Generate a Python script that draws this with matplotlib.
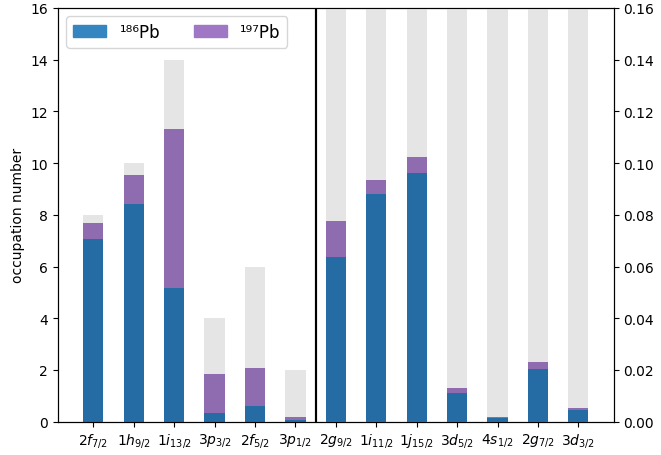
import matplotlib
matplotlib.use("Agg")
import matplotlib.pyplot as plt
from matplotlib.patches import Patch
import numpy as np

# Left group (occupation numbers, left axis)
left_labels = [r"$2f_{7/2}$", r"$1h_{9/2}$", r"$1i_{13/2}$", r"$3p_{3/2}$", r"$2f_{5/2}$", r"$3p_{1/2}$"]
left_capacity = [8, 10, 14, 4, 6, 2]
left_pb186 = [7.07, 8.41, 5.16, 0.35, 0.62, 0.08]
left_pb197 = [7.67, 9.53, 11.32, 1.86, 2.09, 0.19]

# Right group (occupation numbers, right axis)
right_labels = [r"$2g_{9/2}$", r"$1i_{11/2}$", r"$1j_{15/2}$", r"$3d_{5/2}$", r"$4s_{1/2}$", r"$2g_{7/2}$", r"$3d_{3/2}$"]
right_capacity = [10, 12, 16, 6, 2, 8, 4]
right_pb186 = [0.0636, 0.0880, 0.0961, 0.0112, 0.0016, 0.0205, 0.0047]
right_pb197 = [0.0775, 0.0934, 0.1023, 0.0132, 0.0019, 0.0229, 0.0054]

series_names = ["\u00b9\u2078\u2076Pb", "\u00b9\u2079\u2077Pb"]

c_gray = "#e5e5e5"
c_blue = "#256ba4"
c_purple = "#8f6cb0"
c_blue_leg = "#3586c0"
c_purple_leg = "#a077c4"
w = 0.5

fig = plt.figure(figsize=(6.61, 4.56), dpi=100)
ax = fig.add_subplot(111)
fig.subplots_adjust(left=0.0877, right=0.9285, top=0.9803, bottom=0.073)
ax2 = ax.twinx()

nl = len(left_labels)
nr = len(right_labels)
xl = np.arange(nl)
xr = np.arange(nl, nl + nr)

ax.bar(xl, left_capacity, width=w, color=c_gray, zorder=1)
ax.bar(xl, left_pb197, width=w, color=c_purple, zorder=2)
ax.bar(xl, left_pb186, width=w, color=c_blue, zorder=3)

ax2.bar(xr, right_capacity, width=w, color=c_gray, zorder=1)
ax2.bar(xr, right_pb197, width=w, color=c_purple, zorder=2)
ax2.bar(xr, right_pb186, width=w, color=c_blue, zorder=3)

ax.axvline(nl - 0.5, color="black", linewidth=1.5, zorder=5)
ax2.axvline(nl - 0.5, color="black", linewidth=1.5, zorder=5)

ax.set_ylim(0, 16)
ax2.set_ylim(0, 0.16)
ax.set_yticks(np.arange(0, 17, 2))
ax2.set_yticks(np.arange(0, 0.161, 0.02))
ax2.set_yticklabels([f"{v:.2f}" for v in np.arange(0, 0.161, 0.02)])
ax.set_xlim(-0.875, nl + nr - 1 + 0.875)
ax.set_xticks(np.concatenate([xl, xr]))
ax.set_xticklabels(left_labels + right_labels)
ax.set_ylabel("occupation number")

handles = [Patch(color=c_blue_leg), Patch(color=c_purple_leg)]
ax2.legend(handles, series_names, loc="upper left", ncol=2, fontsize=12)

fig.savefig("out.png", dpi=100)
